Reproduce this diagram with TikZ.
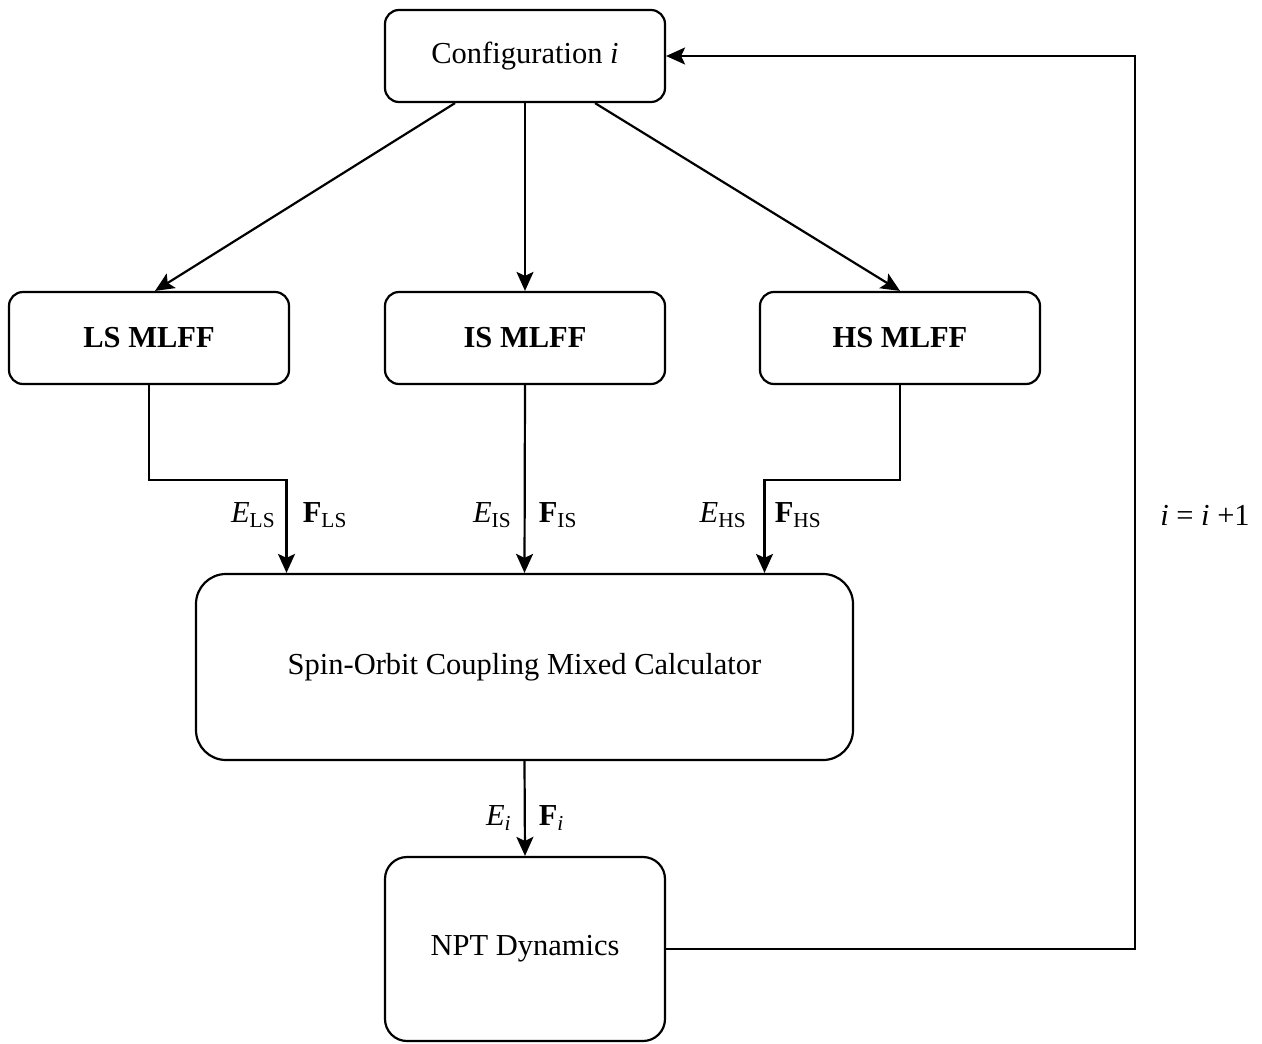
\documentclass[tikz,border=0pt]{standalone}
\usepackage{fontspec}
\setmainfont{Liberation Serif}
\usetikzlibrary{arrows.meta,calc}

\tikzset{every picture/.style={line width=2.2pt}}
\tikzset{
  block/.style={draw,rounded corners=14pt,minimum width=280pt,minimum height=92pt,inner sep=0pt,font=\fontsize{30.5}{34}\selectfont},
  flow/.style={-{Stealth[length=19pt,width=17pt,inset=4pt]}},
  lbl/.style={inner sep=0.75pt,font=\fontsize{30.5}{34}\selectfont}
}
\newcommand{\sub}[1]{\textsubscript{#1}}

\begin{document}
\begin{tikzpicture}[x=1pt,y=1pt,yscale=-1,xscale=1]

\useasboundingbox (0,0) rectangle (1262,1044);

% boxes
\node[block] (cfg) at (525,56) {Configuration \textit{i}};
\node[block] (ls) at (149,338) {\textbf{LS MLFF}};
\node[block] (is) at (525,338) {\textbf{IS MLFF}};
\node[block] (hs) at (900,338) {\textbf{HS MLFF}};
\node[block,minimum width=657pt,minimum height=186pt,rounded corners=30pt] (calc) at (524.5,667) {Spin-Orbit Coupling Mixed Calculator};
\node[block,minimum height=184pt,rounded corners=22pt] (npt) at (525,949) {NPT Dynamics};
\coordinate (back) at (1135,56);

% config to the three force fields
\draw[flow] ([xshift=-70pt]cfg.south) -- ([xshift=6pt]ls.north);
\draw[flow] (cfg.south) -- (is.north);
\draw[flow] ([xshift=70pt]cfg.south) -- (hs.north);

% force fields to the calculator
\draw[flow] (ls.south) -- ++(0,95) -| ([xshift=-238pt]calc.north);
\draw[flow] (is.south) -- (calc.north);
\draw[flow] (hs.south) -- ++(0,95) -| ([xshift=240pt]calc.north);

\draw (277,515) node [anchor=east] [lbl] {\textit{E}\sub{LS}};
\draw (301,515) node [anchor=west] [lbl] {\textbf{F}\sub{LS}};
\draw (513,515) node [anchor=east] [lbl] {\textit{E}\sub{IS}};
\draw (537,515) node [anchor=west] [lbl] {\textbf{F}\sub{IS}};
\draw (748,515) node [anchor=east] [lbl] {\textit{E}\sub{HS}};
\draw (773,515) node [anchor=west] [lbl] {\textbf{F}\sub{HS}};

% calculator to dynamics
\draw[flow] (calc.south) -- (npt.north);
\draw (513,818) node [anchor=east] [lbl] {\textit{E}\sub{\textit{i}}};
\draw (537,818) node [anchor=west] [lbl] {\textbf{F}\sub{\textit{i}}};

% next step
\draw[flow] (npt.east) -| (back) -- (cfg.east);
\draw (1205,515) node [lbl] {\textit{i} = \textit{i} +1};

\end{tikzpicture}
\end{document}
